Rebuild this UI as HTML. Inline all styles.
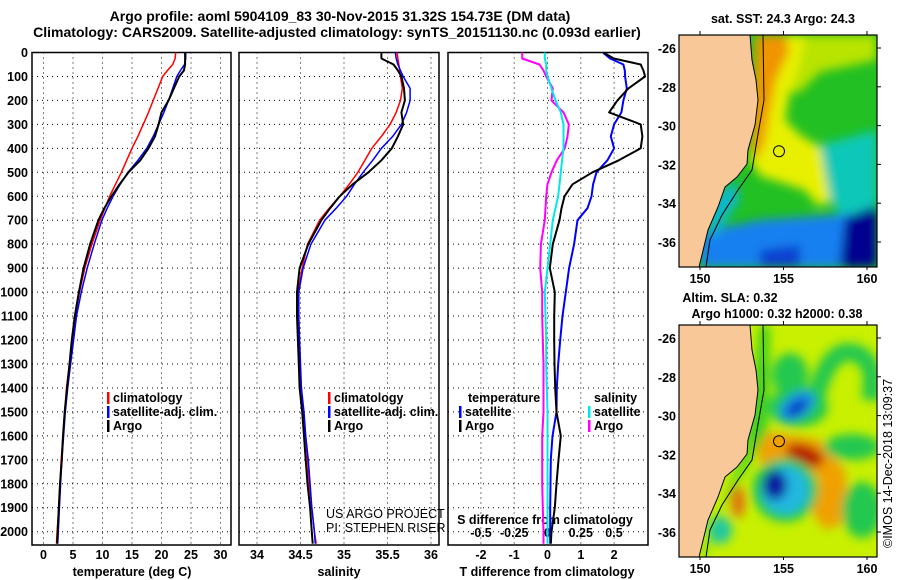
<!DOCTYPE html>
<html><head><meta charset="utf-8"><style>
html,body{margin:0;padding:0;background:#fff;}
svg{display:block;font-family:"Liberation Sans",Arial,sans-serif;}
.t{font-weight:bold;font-size:12.5px;fill:#000;}
.ti{font-weight:bold;font-size:14px;fill:#000;}
.g{stroke:#000;stroke-width:1;stroke-dasharray:1 4;fill:none;}
.box{fill:none;stroke:#000;stroke-width:1.5;}
</style></head><body>
<svg id="chart" width="900" height="580" viewBox="0 0 900 580" xmlns="http://www.w3.org/2000/svg">
<text class="ti" x="340" y="21" text-anchor="middle">Argo profile: aoml 5904109_83 30-Nov-2015 31.32S 154.73E (DM data)</text>
<text class="ti" x="337" y="37" text-anchor="middle">Climatology: CARS2009. Satellite-adjusted climatology: synTS_20151130.nc (0.093d earlier)</text>
<g id="p1"></g>
<g id="p2"></g>
<g id="p3"></g>
<g id="maps"></g>
<text class="t" transform="translate(892,548) rotate(-90)" style="font-weight:normal;font-size:12.5px">©IMOS 14-Dec-2018 13:09:37</text>
</svg>
<script>
const depths=[0,25,50,75,100,150,200,250,300,350,400,450,500,550,600,650,700,800,900,1000,1100,1200,1300,1400,1500,1600,1700,1800,1900,2000,2050];
const tempClim=[22.4,22.3,21.9,21.0,20.2,19.4,18.6,17.8,16.9,16.0,15.0,14.1,13.2,12.2,11.2,10.4,9.6,8.2,7.0,6.1,5.4,4.9,4.4,3.9,3.6,3.3,3.0,2.8,2.6,2.3,2.2];
const tempSat=[24.1,24.1,23.9,23.2,22.6,21.9,21.2,20.4,19.5,18.6,17.5,16.0,14.3,13.0,11.8,10.8,9.9,8.6,7.4,6.4,5.6,5.1,4.6,4.1,3.7,3.4,3.1,2.9,2.7,2.5,2.4];
const tempArgo=[24.0,24.0,24.0,23.8,23.0,22.1,21.2,20.0,19.5,18.9,17.8,16.4,14.4,12.9,11.5,10.3,9.3,7.9,6.8,6.0,5.3,4.8,4.4,4.0,3.6,3.3,3.1,2.8,2.6,2.4,2.3];
const salClim=[35.61,35.62,35.63,35.64,35.65,35.67,35.65,35.60,35.53,35.43,35.32,35.24,35.16,35.06,34.95,34.83,34.72,34.58,34.52,34.47,34.47,34.48,34.49,34.51,34.53,34.56,34.58,34.60,34.63,34.66,34.68];
const salSat=[35.59,35.60,35.62,35.65,35.68,35.76,35.76,35.72,35.66,35.56,35.43,35.33,35.22,35.12,35.03,34.91,34.78,34.62,34.53,34.48,34.48,34.49,34.50,34.51,34.54,34.56,34.59,34.61,34.63,34.66,34.67];
const salArgo=[35.43,35.43,35.57,35.62,35.66,35.69,35.70,35.66,35.68,35.62,35.55,35.43,35.28,35.10,34.95,34.84,34.74,34.59,34.49,34.46,34.46,34.47,34.48,34.49,34.52,34.54,34.56,34.58,34.61,34.63,34.64];
const tDiffArgo=[1.68,1.99,2.80,2.88,2.93,2.43,2.1,1.85,2.8,2.85,2.8,2.14,1.35,0.75,0.51,0.42,0.36,0.16,0.07,0.22,0.2,0.2,0.21,0.23,0.27,0.4,0.33,0.27,0.22,0.12,0.1];
const tDiffSat=[1.66,1.88,2.28,2.32,2.33,2.38,2.28,2.22,2.0,1.9,2.0,1.8,1.47,1.37,1.32,1.2,0.9,0.8,0.65,0.55,0.45,0.38,0.32,0.28,0.27,0.15,0.10,0.09,0.08,0.08,0.08];
const sDiffArgo=[-0.19,-0.19,-0.06,-0.03,-0.01,0.04,0.03,0.12,0.16,0.15,0.13,0.07,0.03,0.0,-0.01,-0.015,-0.02,-0.05,-0.055,-0.04,-0.04,-0.035,-0.03,-0.03,-0.03,-0.04,-0.04,-0.04,-0.035,-0.03,-0.03];
const sDiffSat=[-0.02,-0.02,-0.01,-0.01,0.0,0.03,0.06,0.10,0.12,0.12,0.12,0.11,0.10,0.09,0.08,0.06,0.04,0.02,0.0,-0.02,-0.015,-0.01,-0.01,-0.005,0,0,0,0,0,0,0];
const depthTicks=[0,100,200,300,400,500,600,700,800,900,1000,1100,1200,1300,1400,1500,1600,1700,1800,1900,2000];
const tempTicks=[0,5,10,15,20,25,30];
const salTicks=[34,34.5,35,35.5,36];
const tDiffTicks=[-2,-1,0,1,2];
const sDiffTicks=[-0.5,-0.25,0,0.25,0.5];
const sDiffTickLabels=["-0.5","-0.25","0","0.25","0.5"];

const NS="http://www.w3.org/2000/svg";
function mk(tag,attrs,parent,txt){const e=document.createElementNS(NS,tag);for(const k in attrs)e.setAttribute(k,attrs[k]);if(txt!==undefined)e.textContent=txt;parent.appendChild(e);return e;}
const TOP=52.5,BOT=545;
const yD=d=>TOP+d*0.2396;
const xT=v=>43.5+v*5.9;
const xS=v=>257+(v-34)*87;
const xTd=v=>547.5+v*33.3;
const xSd=v=>547.5+v*133;

function panel(g,x0,x1,xs,ticks){
  for(const d of depthTicks){const l=mk('line',{x1:x0,x2:x1,y1:yD(d),y2:yD(d),class:'g'},g);
    
    }
  ticks.forEach(v=>{const l=mk('line',{x1:xs(v),x2:xs(v),y1:TOP,y2:BOT,class:'g'},g);
    
    });
  const b=mk('rect',{x:x0,y:TOP,width:x1-x0,height:BOT-TOP,class:'box'},g);
  
  
}
function series(g,xs,vals,color,w,name){
  const pts=depths.map((d,i)=>xs(vals[i]).toFixed(1)+','+yD(d).toFixed(1)).join(' ');
  const p=mk('polyline',{points:pts,fill:'none',stroke:color,'stroke-width':w,'stroke-linejoin':'round'},g);
  
  
}
function label(g,x,y,txt,anchor,name,cls){const t=mk('text',{x:x,y:y,'text-anchor':anchor||'start',class:cls||'t'},g,txt);
  
  return t;}
function legendRow(g,x,y,color,txt,name){
  const r=mk('rect',{x:x,y:y-10,width:2.5,height:12,fill:color},g);
  
  
  label(g,x+6,y,txt,'start',name);
}

const p1=document.getElementById('p1');
panel(p1,32,231,xT,tempTicks);
for(const d of depthTicks) label(p1,28,yD(d)+4.5,String(d),'end','depth-tick-label');
tempTicks.forEach(v=>label(p1,xT(v),559,String(v),'middle','temp-tick-label'));
label(p1,132,576,'temperature (deg C)','middle','x-axis-title-temperature');
series(p1,xT,tempClim,'#ff0000',1.5,'temp-climatology-line');
series(p1,xT,tempSat,'#0000ff',1.5,'temp-satellite-line');
series(p1,xT,tempArgo,'#000000',2,'temp-argo-line');
legendRow(p1,107,402,'#ff0000','climatology','legend-climatology');
legendRow(p1,107,416,'#0000ff','satellite-adj. clim.','legend-satellite');
legendRow(p1,107,430,'#000000','Argo','legend-argo');

const p2=document.getElementById('p2');
panel(p2,239,439,xS,salTicks);
salTicks.forEach(v=>label(p2,xS(v),559,String(v),'middle','sal-tick-label'));
label(p2,339,576,'salinity','middle','x-axis-title-salinity');
series(p2,xS,salClim,'#ff0000',1.5,'sal-climatology-line');
series(p2,xS,salSat,'#0000ff',1.5,'sal-satellite-line');
series(p2,xS,salArgo,'#000000',2,'sal-argo-line');
legendRow(p2,328,402,'#ff0000','climatology','legend-climatology');
legendRow(p2,328,416,'#0000ff','satellite-adj. clim.','legend-satellite');
legendRow(p2,328,430,'#000000','Argo','legend-argo');
label(p2,326,518,'US ARGO PROJECT','start','project-credit','t').setAttribute('style','font-weight:normal;font-size:12.5px');
label(p2,326,532,'PI: STEPHEN RISER','start','pi-credit','t').setAttribute('style','font-weight:normal;font-size:12.5px');

const p3=document.getElementById('p3');
panel(p3,448,648,xTd,tDiffTicks);
tDiffTicks.forEach(v=>label(p3,xTd(v),559,String(v),'middle','tdiff-tick-label'));
sDiffTicks.forEach((v,i)=>label(p3,xSd(v),537,sDiffTickLabels[i],'middle','sdiff-tick-label'));
label(p3,545,524,'S difference from climatology','middle','sdiff-axis-title');
label(p3,547,576,'T difference from climatology','middle','x-axis-title-tdiff');
series(p3,xSd,sDiffArgo,'#ff00ff',2,'sdiff-argo-line');
series(p3,xSd,sDiffSat,'#00e8e8',2,'sdiff-satellite-line');
series(p3,xTd,tDiffSat,'#0000ff',2,'tdiff-satellite-line');
series(p3,xTd,tDiffArgo,'#000000',2,'tdiff-argo-line');
label(p3,468,402,'temperature','start','legend-temperature-header');
legendRow(p3,459,416,'#0000ff','satellite','legend-t-satellite');
legendRow(p3,459,430,'#000000','Argo','legend-t-argo');
label(p3,594,402,'salinity','start','legend-salinity-header');
legendRow(p3,588,416,'#00e8e8','satellite','legend-s-satellite');
legendRow(p3,588,430,'#ff00ff','Argo','legend-s-argo');
</script>
<script>
const mapLatTicks=[-26,-28,-30,-32,-34,-36];
const mapLonTicks=[150,155,160];
const floatLon=154.73, floatLat=-31.32;
(function(){
const NS="http://www.w3.org/2000/svg";
const g=document.getElementById('maps');
function mk(tag,attrs,parent,txt){const e=document.createElementNS(NS,tag);for(const k in attrs)e.setAttribute(k,attrs[k]);if(txt!==undefined)e.textContent=txt;parent.appendChild(e);return e;}
const X0=679,X1=877;
const xL=lon=>700+(lon-150)*16.7;
const defs=mk('defs',{},g);
const f=mk('filter',{id:'bl',x:'-20%',y:'-20%',width:'140%',height:'140%'},defs);
mk('feGaussianBlur',{stdDeviation:'5'},f);
function drawMap(Y0,Y1,kind){
  const yL=lat=>Y0+13+(-26-lat)*19.4;
  const cid='clip'+kind;
  const cp=mk('clipPath',{id:cid},defs);mk('rect',{x:X0,y:Y0,width:X1-X0,height:Y1-Y0},cp);
  const m=mk('g',{'clip-path':'url(#'+cid+')'},g);
  
  
  const o=Y0-35;
  const P=a=>a.map(p=>p[0]+','+(p[1]+o)).join(' ');
  if(kind==='sst'){
    mk('rect',{x:X0,y:Y0,width:X1-X0,height:Y1-Y0,fill:'#22c022'},m);
    const b=mk('g',{filter:'url(#bl)'},m);
    mk('polygon',{points:P([[780,35],[877,35],[877,60],[820,72],[800,92],[780,92]]),fill:'#b8e400'},b);
    mk('polygon',{points:P([[755,35],[805,35],[800,62],[790,92],[785,120],[800,135],[825,150],[835,175],[835,200],[818,206],[805,190],[780,182],[760,176],[750,160]]),fill:'#e8f000'},b);
    mk('polygon',{points:P([[755,35],[785,35],[790,50],[776,80],[770,110],[765,140],[758,160],[752,150]]),fill:'#f09400'},b);
    mk('polygon',{points:P([[820,145],[877,130],[877,215],[840,215],[830,200]]),fill:'#10c8b8'},b);
    mk('polygon',{points:P([[700,232],[760,220],[877,212],[877,267],[700,267]]),fill:'#1880f0'},b);
    mk('polygon',{points:P([[760,250],[800,245],[800,267],[760,267]]),fill:'#1040d0'},b);
    mk('polygon',{points:P([[845,218],[877,205],[877,267],[840,267]]),fill:'#000090'},b);
    mk('polygon',{points:P([[705,205],[735,180],[740,200],[712,240]]),fill:'#10b8c8'},b);
  } else {
    mk('rect',{x:X0,y:Y0,width:X1-X0,height:Y1-Y0,fill:'#c8f000'},m);
    const b=mk('g',{filter:'url(#bl)'},m);
    mk('ellipse',{cx:790,cy:85+o,rx:18,ry:22,fill:'#20c850'},b);
    mk('path',{d:'M815 110 Q830 50 860 65 Q877 75 870 110',transform:'translate(0,'+o+')',fill:'none',stroke:'#20c850','stroke-width':18},b);
    mk('ellipse',{cx:798,cy:117+o,rx:30,ry:20,fill:'#20c850'},b);
    mk('ellipse',{cx:797,cy:116+o,rx:20,ry:12,fill:'#1890e8',transform:'rotate(-35 797 '+(116+o)+')'},b);
    mk('ellipse',{cx:797,cy:118+o,rx:12,ry:6,fill:'#1030c0',transform:'rotate(-35 797 '+(118+o)+')'},b);
    mk('polygon',{points:P([[755,140],[790,145],[820,150],[845,180],[850,230],[825,240],[810,220],[820,190],[795,170],[760,175]]),fill:'#f0a000'},b);
    mk('ellipse',{cx:805,cy:165+o,rx:20,ry:10,fill:'#b81800',transform:'rotate(20 805 '+(165+o)+')'},b);
    mk('ellipse',{cx:852,cy:157+o,rx:28,ry:13,fill:'#20c850'},b);
    mk('ellipse',{cx:862,cy:220+o,rx:20,ry:28,fill:'#20c850'},b);
    mk('ellipse',{cx:785,cy:200+o,rx:33,ry:32,fill:'#20c850'},b);
    mk('ellipse',{cx:785,cy:200+o,rx:24,ry:24,fill:'#20b8e0'},b);
    mk('ellipse',{cx:775,cy:195+o,rx:12,ry:15,fill:'#0818a0'},b);
    mk('ellipse',{cx:738,cy:212+o,rx:7,ry:16,fill:'#e07010'},b);
    mk('ellipse',{cx:720,cy:240+o,rx:12,ry:14,fill:'#20c8a0'},b);
    mk('polygon',{points:P([[760,35],[770,35],[768,140],[745,180],[715,230],[705,267],[700,267],[745,160]]),fill:'#40d020'},b);
  }
  const land=[[679,35],[750,35],[752,60],[756,80],[758,100],[755,125],[748,150],[747,164],[737,177],[725,187],[718,207],[708,230],[700,263],[699,267],[679,267]];
  const ld=mk('polygon',{points:P(land),fill:'#f8c898',stroke:'#000','stroke-width':1},m);
  
  
  mk('polyline',{points:P([[763,35],[764,100],[757,140],[752,170],[738,190],[722,215],[710,240],[706,267]]),fill:'none',stroke:'#000','stroke-width':1},m);
  const c=mk('circle',{cx:xL(floatLon),cy:yL(floatLat),r:5.5,fill:kind==='sla'?'#f0a000':'none',stroke:'#000','stroke-width':1},g);
  
  
  const fr=mk('rect',{x:X0,y:Y0,width:X1-X0,height:Y1-Y0,fill:'none',stroke:'#000','stroke-width':1.2},g);
  
  
  for(const la of mapLatTicks){const y=yL(la);
    mk('line',{x1:X1,x2:X1+4,y1:y,y2:y,stroke:'#000'},g);
    const t=mk('text',{x:676,y:y+5,'text-anchor':'end',class:'t'},g,String(la));
    
    }
  for(const lo of mapLonTicks){const x=xL(lo);
    mk('line',{x1:x,x2:x,y1:Y0,y2:Y0-4,stroke:'#000'},g);
    mk('line',{x1:x,x2:x,y1:Y1,y2:Y1+3,stroke:'#000'},g);
    const t=mk('text',{x:x,y:Y1+16,'text-anchor':'middle',class:'t'},g,String(lo));
    
    }
}
drawMap(35,267,'sst');
drawMap(325,557,'sla');
function lab(x,y,s,n){const t=mk('text',{x:x,y:y,'text-anchor':'middle',class:'t'},g,s);
  
  }
lab(783,23,'sat. SST: 24.3 Argo: 24.3','sst-map-title');
lab(730,302,'Altim. SLA: 0.32','sla-map-title');
lab(777,318,'Argo h1000: 0.32 h2000: 0.38','steric-height-title');
})();
</script>
</body></html>
